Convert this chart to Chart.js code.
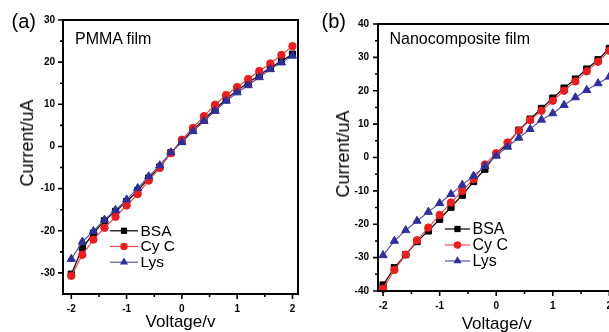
<!DOCTYPE html>
<html>
<head>
<meta charset="utf-8">
<script src="https://cdn.jsdelivr.net/npm/chart.js@4.4.1/dist/chart.umd.min.js"></script>
<style>
  html, body { margin: 0; padding: 0; background: #fff; }
  body { width: 609px; height: 332px; position: relative; overflow: hidden;
         font-family: Arial, "Liberation Sans", sans-serif; }
  canvas { position: absolute; top: 0; }
  #chartA { left: 0; }
  #chartB { left: 305px; }
  .txt { position: absolute; line-height: 1; white-space: nowrap; color: #000; }
  .rot { transform: translate(-50%, -50%) rotate(-90deg); }
  .cx { transform: translateX(-50%); }
</style>
</head>
<body>
<canvas id="chartA" width="305" height="332"></canvas>
<canvas id="chartB" width="320" height="332"></canvas>

<div class="txt" style="left:11.5px; top:10.5px; font-size:20px;">(a)</div>
<div class="txt" style="left:321.5px; top:10.8px; font-size:20px;">(b)</div>
<div class="txt" style="left:75px; top:31px; font-size:16px;">PMMA film</div>
<div class="txt" style="left:389.5px; top:31px; font-size:16px;">Nanocomposite film</div>
<div class="txt rot" style="left:27px; top:142.5px; font-size:18px;">Current/uA</div>
<div class="txt rot" style="left:342.7px; top:153.5px; font-size:18px;">Current/uA</div>
<div class="txt cx" style="left:180.5px; top:312.8px; font-size:17px;">Voltage/v</div>
<div class="txt cx" style="left:496.7px; top:314.5px; font-size:17px;">Voltage/v</div>

<script>
// Datos
const voltaje = [-2, -1.8, -1.6, -1.4, -1.2, -1, -0.8, -0.6, -0.4, -0.2, 0,
                 0.2, 0.4, 0.6, 0.8, 1, 1.2, 1.4, 1.6, 1.8, 2];

// (a) PMMA film
const bsaPmma = [-30.3, -24.1, -20.6, -17.6, -15.4, -13.1, -10.5, -7.5, -4.9, -1.5, 1.2,
                 3.9, 6.4, 8.9, 11.2, 13.3, 15.1, 16.9, 18.7, 20.3, 21.9];
const cycPmma = [-30.7, -25.7, -22.1, -19.3, -16.7, -14.0, -11.3, -8.1, -5.1, -1.6, 1.6,
                 4.4, 7.2, 9.9, 12.2, 14.1, 16.0, 17.9, 19.7, 21.7, 23.8];
const lysPmma = [-26.7, -22.6, -20.1, -17.4, -15.1, -12.6, -9.9, -7.1, -4.5, -1.4, 1.0,
                 3.6, 6.0, 8.4, 10.8, 12.8, 14.5, 16.4, 18.3, 19.9, 21.5];

// (b) Nanocomposite film
const bsaNano = [-38.2, -33.0, -29.1, -25.2, -22.0, -18.5, -14.9, -11.3, -7.2, -3.5, 1.0,
                 4.0, 8.2, 11.5, 14.7, 17.8, 20.8, 23.5, 26.5, 29.3, 32.7];
const cycNano = [-39.3, -33.7, -29.1, -24.8, -21.0, -17.2, -13.5, -10.0, -6.5, -2.1, 1.3,
                 4.5, 8.0, 11.2, 14.0, 17.0, 20.0, 22.8, 25.8, 28.7, 32.0];
const lysNano = [-29.3, -25.0, -21.8, -19.0, -16.3, -13.7, -11.0, -8.2, -5.5, -2.6, 0.5,
                 3.2, 5.9, 8.5, 11.3, 13.2, 15.7, 18.0, 20.2, 22.2, 24.2];

const etiquetas = ['BSA', 'Cy C', 'Lys'];

// Marcas de los ejes
const xTicks = [-2, -1, 0, 1, 2];
const xMinor = [-1.5, -0.5, 0.5, 1.5];
const yTicksA = [-30, -20, -10, 0, 10, 20, 30];
const yMinorA = [-25, -15, -5, 5, 15, 25];
const yTicksB = [-40, -30, -20, -10, 0, 10, 20, 30, 40];
const yMinorB = [-35, -25, -15, -5, 5, 15, 25, 35];

// orden: BSA debajo, Lys encima
const estilos = [
    { punto: '#000000', linea: '#000000', forma: 'rect', radio: 4.4, orden: 3 },
    { punto: '#ee1c1c', linea: '#f04848', forma: 'circle', radio: 3.7, orden: 2 },
    { punto: '#2e2e9c', linea: '#5656b0', forma: 'triangle', radio: 4.7, orden: 1 }
];

function armarDatasets(series) {
    return series.map((vals, i) => ({
        label: etiquetas[i],
        data: voltaje.map((v, k) => ({ x: v, y: vals[k] })),
        order: estilos[i].orden,
        borderColor: estilos[i].linea,
        borderWidth: 1.2,
        pointStyle: estilos[i].forma,
        pointRadius: estilos[i].radio,
        pointBackgroundColor: estilos[i].punto,
        pointBorderColor: estilos[i].punto,
        pointBorderWidth: 1,
        tension: 0,
        clip: false
    }));
}

function dibujarMarcador(ctx, forma, r, x, y) {
    ctx.beginPath();
    if (forma === 'rect') {
        const s = r * Math.SQRT1_2;
        ctx.rect(x - s, y - s, 2 * s, 2 * s);
    } else if (forma === 'circle') {
        ctx.arc(x, y, r, 0, Math.PI * 2);
    } else {
        ctx.moveTo(x, y - r);
        ctx.lineTo(x + r * 0.866, y + r * 0.5);
        ctx.lineTo(x - r * 0.866, y + r * 0.5);
        ctx.closePath();
    }
    ctx.fill();
}

// Marco, marcas menores/mayores y leyenda
const marcoPlugin = {
    id: 'marco',
    afterDatasetsDraw(chart, args, opts) {
        const { ctx, chartArea: a, scales: { x, y } } = chart;
        ctx.save();
        ctx.strokeStyle = '#000';
        ctx.lineWidth = 1.6;
        ctx.beginPath();
        opts.xMayor.forEach(v => { const p = x.getPixelForValue(v); ctx.moveTo(p, a.bottom); ctx.lineTo(p, a.bottom + 5); });
        opts.xMenor.forEach(v => { const p = x.getPixelForValue(v); ctx.moveTo(p, a.bottom); ctx.lineTo(p, a.bottom + 3); });
        opts.yMayor.forEach(v => { const p = y.getPixelForValue(v); ctx.moveTo(a.left, p); ctx.lineTo(a.left - 5, p); });
        opts.yMenor.forEach(v => { const p = y.getPixelForValue(v); ctx.moveTo(a.left, p); ctx.lineTo(a.left - 3, p); });
        ctx.stroke();
        ctx.lineWidth = 2;
        ctx.strokeRect(a.left, a.top, a.right - a.left, a.bottom - a.top);

        // leyenda
        const ley = opts.leyenda;
        ctx.font = ley.fuente + 'px Arial, "Liberation Sans", sans-serif';
        ctx.textBaseline = 'middle';
        chart.data.datasets.forEach((ds, i) => {
            const ly = a.top + ley.y + i * ley.paso;
            const lx = a.left + ley.x;
            ctx.strokeStyle = estilos[i].linea;
            ctx.lineWidth = 1.2;
            ctx.beginPath();
            ctx.moveTo(lx, ly);
            ctx.lineTo(lx + ley.largo, ly);
            ctx.stroke();
            ctx.fillStyle = estilos[i].punto;
            dibujarMarcador(ctx, estilos[i].forma, estilos[i].radio, lx + ley.largo / 2, ly);
            ctx.fillStyle = '#000';
            ctx.fillText(ds.label, lx + ley.largo + 2.5, ly + 0.5);
        });
        ctx.restore();
    }
};

function crearGrafica(id, series, cfg) {
    new Chart(document.getElementById(id), {
        type: 'line',
        data: { datasets: armarDatasets(series) },
        plugins: [marcoPlugin],
        options: {
            responsive: false,
            animation: false,
            events: [],
            layout: { padding: cfg.padding },
            plugins: {
                legend: { display: false },
                tooltip: { enabled: false },
                marco: {
                    xMayor: xTicks, xMenor: xMinor,
                    yMayor: cfg.yTicks, yMenor: cfg.yMinor,
                    leyenda: cfg.leyenda
                }
            },
            scales: {
                x: {
                    type: 'linear',
                    min: cfg.xMin, max: cfg.xMax,
                    afterFit: s => { s.height = cfg.altoX; },
                    afterBuildTicks: s => { s.ticks = xTicks.map(v => ({ value: v })); },
                    grid: { display: false, drawTicks: false },
                    border: { display: false },
                    ticks: {
                        padding: 9,
                        maxRotation: 0,
                        color: '#000',
                        font: { size: 10, weight: 'bold', family: 'Arial, "Liberation Sans", sans-serif' }
                    }
                },
                y: {
                    type: 'linear',
                    min: cfg.yMin, max: cfg.yMax,
                    afterFit: s => { s.width = cfg.anchoY; },
                    afterBuildTicks: s => { s.ticks = cfg.yTicks.map(v => ({ value: v })); },
                    grid: { display: false, drawTicks: false },
                    border: { display: false },
                    ticks: {
                        padding: cfg.padY,
                        color: '#000',
                        font: { size: 10, weight: 'bold', family: 'Arial, "Liberation Sans", sans-serif' }
                    }
                }
            }
        }
    });
}

crearGrafica('chartA', [bsaPmma, cycPmma, lysPmma], {
    padding: { top: 20, right: 7, bottom: 0, left: 0 },
    xMin: -2.15, xMax: 2.1, yMin: -35, yMax: 30,
    altoX: 38, anchoY: 63, padY: 8,
    yTicks: yTicksA, yMinor: yMinorA,
    leyenda: { x: 47, y: 210.8, paso: 15.7, largo: 28, fuente: 15.5 }
});

crearGrafica('chartB', [bsaNano, cycNano, lysNano], {
    padding: { top: 24, right: 10, bottom: 0, left: 0 },
    xMin: -2.09, xMax: 2.1, yMin: -40, yMax: 40,
    altoX: 41, anchoY: 73, padY: 9,
    yTicks: yTicksB, yMinor: yMinorB,
    leyenda: { x: 67, y: 205, paso: 16, largo: 25, fuente: 16 }
});
</script>
</body>
</html>
